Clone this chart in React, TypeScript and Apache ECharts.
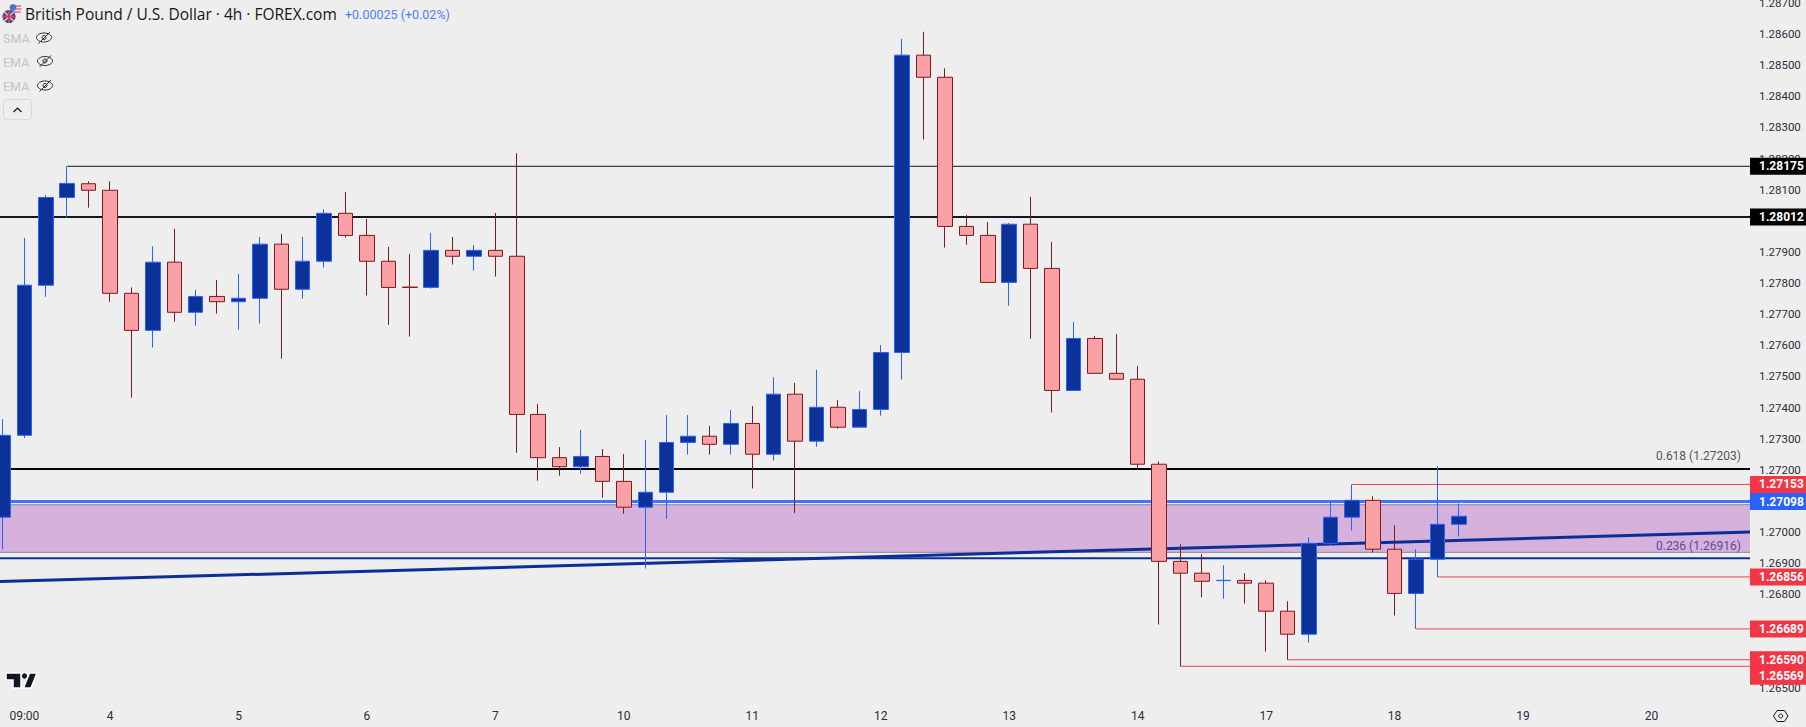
import React, { useEffect, useRef } from "react";
import * as echarts from "echarts";

const opens = [1.27048,1.27311,1.27793,1.28075,1.28119,1.28098,1.27767,1.27648,1.27867,1.27706,1.27757,1.27740,1.27751,1.27925,1.27780,1.27870,1.28024,1.27953,1.27870,1.27787,1.27786,1.27905,1.27886,1.27905,1.27886,1.27378,1.27239,1.27210,1.27243,1.27163,1.27080,1.27128,1.27288,1.27308,1.27282,1.27349,1.27250,1.27443,1.27292,1.27401,1.27337,1.27394,1.27577,1.28532,1.28461,1.27982,1.27953,1.27802,1.27989,1.27847,1.27455,1.27622,1.27510,1.27491,1.27218,1.26906,1.26868,1.26844,1.26845,1.26836,1.26746,1.26672,1.26964,1.27048,1.27102,1.26945,1.26803,1.26913,1.27025];
const closes = [1.27311,1.27793,1.28075,1.28120,1.28098,1.27767,1.27648,1.27867,1.27706,1.27757,1.27740,1.27751,1.27925,1.27780,1.27870,1.28024,1.27953,1.27870,1.27786,1.27786,1.27905,1.27886,1.27905,1.27886,1.27378,1.27239,1.27210,1.27243,1.27163,1.27080,1.27128,1.27288,1.27308,1.27282,1.27349,1.27250,1.27443,1.27292,1.27401,1.27337,1.27394,1.27577,1.28532,1.28461,1.27982,1.27953,1.27802,1.27989,1.27847,1.27455,1.27622,1.27510,1.27491,1.27218,1.26906,1.26868,1.26842,1.26845,1.26836,1.26746,1.26672,1.26964,1.27048,1.27102,1.26945,1.26803,1.26913,1.27025,1.27051];
const lows = [1.26944,1.27302,1.27756,1.28010,1.28042,1.27740,1.27432,1.27593,1.27676,1.27663,1.27702,1.27650,1.27670,1.27557,1.27750,1.27850,1.27946,1.27760,1.27666,1.27628,1.27782,1.27859,1.27840,1.27821,1.27255,1.27165,1.27181,1.27188,1.27111,1.27059,1.26883,1.27043,1.27249,1.27249,1.27249,1.27140,1.27230,1.27061,1.27274,1.27332,1.27337,1.27374,1.27490,1.28261,1.27914,1.27923,1.27802,1.27727,1.27621,1.27384,1.27455,1.27510,1.27491,1.27204,1.26703,1.26569,1.26790,1.26786,1.26770,1.26616,1.26590,1.26645,1.26958,1.27005,1.26934,1.26732,1.26689,1.26856,1.26986];
const highs = [1.27363,1.27945,1.28083,1.28175,1.28127,1.28127,1.27786,1.27918,1.27974,1.27778,1.27810,1.27829,1.27948,1.27958,1.27948,1.28037,1.28093,1.28006,1.27916,1.27893,1.27961,1.27948,1.27922,1.28025,1.28217,1.27412,1.27273,1.27328,1.27267,1.27251,1.27296,1.27376,1.27376,1.27341,1.27392,1.27405,1.27497,1.27479,1.27521,1.27424,1.27453,1.27601,1.28584,1.28607,1.28490,1.28019,1.27996,1.27993,1.28077,1.27932,1.27675,1.27630,1.27636,1.27534,1.27227,1.26961,1.26929,1.26894,1.26868,1.26845,1.26778,1.26983,1.27098,1.27153,1.27115,1.27022,1.26945,1.27211,1.27092];

const priceTicks = [1.265,1.266,1.267,1.268,1.269,1.27,1.271,1.272,1.273,1.274,1.275,1.276,1.277,1.278,1.279,1.28,1.281,1.282,1.283,1.284,1.285,1.286,1.287];
const dateTickBars = [1,5,11,17,23,29,35,41,47,53,59,65,71,77];
const dateTickLabels = ["09:00","4","5","6","7","10","11","12","13","14","17","18","19","20"];

const resistanceOuter = 1.28175;
const resistanceInner = 1.28012;
const fib618 = 1.27203;
const fib236 = 1.26916;
const zoneBlue = 1.27098;
const zoneTop = 1.27088;
const zoneBottom = 1.26935;
const trendFrom = 1.26841;
const trendTo = 1.27;
const pivots = [
  { value: 1.27153, fromBar: 63, shift: 0 },
  { value: 1.26856, fromBar: 67, shift: 0 },
  { value: 1.26689, fromBar: 66, shift: 0 },
  { value: 1.2659, fromBar: 60, shift: 0 },
  { value: 1.26569, fromBar: 55, shift: 10 },
];

const FONT = "Roboto, 'Liberation Sans', sans-serif";
const TITLE_FONT = "'Open Sans', Roboto, sans-serif";
const X_MIN = -0.14;
const X_MAX = 81.6;

function hLine(value: number, from: number, color: string, width: number, tag?: string, shift = 0, z = 2) {
  return {
    type: "line",
    silent: true,
    z,
    showSymbol: false,
    symbol: "none",
    data: [[from, value], [X_MAX, value]],
    lineStyle: { color, width },
    endLabel: tag
      ? {
          show: true,
          formatter: () => value.toFixed(5),
          distance: 0,
          offset: [0, shift],
          align: "left",
          verticalAlign: "middle",
          color: "#fff",
          fontFamily: FONT,
          fontSize: 12,
          fontWeight: "bold",
          backgroundColor: tag,
          width: 47,
          height: 17,
          lineHeight: 17,
          padding: [0, 0, 0, 9],
        }
      : { show: false },
  };
}

function eye(cx: number, cy: number) {
  const s = { stroke: "#2a2e39", lineWidth: 1, fill: "transparent" };
  return [
    { type: "ellipse", shape: { cx, cy, rx: 7.5, ry: 4.5 }, style: s, z: 20 },
    { type: "circle", shape: { cx, cy, r: 2 }, style: s, z: 20 },
    { type: "line", shape: { x1: cx - 5.5, y1: cy + 6, x2: cx + 6, y2: cy - 5.5 }, style: s, z: 20 },
  ];
}

function legendText(text: string, y: number) {
  return {
    type: "text", x: 3, y, z: 20,
    style: { text, fill: "#c1c4cd", font: `12.5px ${FONT}`, verticalAlign: "middle" },
  };
}

function buildGraphics() {
  const flagLine = (x1: number, y1: number, x2: number, y2: number, stroke: string, lineWidth = 1) => ({
    type: "line", shape: { x1, y1, x2, y2 }, style: { stroke, lineWidth }, z: 21,
  });
  return [
    { type: "circle", shape: { cx: 15.5, cy: 10, r: 6 }, style: { fill: "#f6e9e9" }, z: 20 },
    flagLine(11, 6, 21, 6, "#d8343f"), flagLine(10, 9, 21.5, 9, "#d8343f"), flagLine(11, 12, 21, 12, "#d8343f"),
    { type: "circle", shape: { cx: 13, cy: 7.5, r: 3.4 }, style: { fill: "#4a78c8" }, z: 21 },
    { type: "circle", shape: { cx: 9, cy: 16.5, r: 6.5 }, style: { fill: "#33508f" }, z: 22 },
    { type: "line", shape: { x1: 4.5, y1: 12, x2: 13.5, y2: 21 }, style: { stroke: "#e8c7cc", lineWidth: 1.5 }, z: 23 },
    { type: "line", shape: { x1: 13.5, y1: 12, x2: 4.5, y2: 21 }, style: { stroke: "#e8c7cc", lineWidth: 1.5 }, z: 23 },
    { type: "line", shape: { x1: 9, y1: 10, x2: 9, y2: 23 }, style: { stroke: "#d8404c", lineWidth: 2 }, z: 24 },
    { type: "line", shape: { x1: 2.5, y1: 16.5, x2: 15.5, y2: 16.5 }, style: { stroke: "#d8404c", lineWidth: 2 }, z: 24 },
    {
      type: "text", x: 25, y: 14, z: 20,
      style: { text: "British Pound / U.S. Dollar · 4h · FOREX.com", fill: "#131722", font: `15.5px ${TITLE_FONT}`, verticalAlign: "middle" },
    },
    {
      type: "text", x: 345, y: 14, z: 20,
      style: { text: "+0.00025 (+0.02%)", fill: "#4d7fff", font: `12.5px ${FONT}`, verticalAlign: "middle" },
    },
    legendText("SMA", 38), legendText("EMA", 62), legendText("EMA", 86),
    ...eye(44, 37.5), ...eye(45, 61), ...eye(45, 85.5),
    { type: "rect", shape: { x: 3.5, y: 99.5, width: 28, height: 20, r: 3 }, style: { fill: "transparent", stroke: "#d6d8de", lineWidth: 1 }, z: 20 },
    { type: "polyline", shape: { points: [[13.5, 112], [17.5, 108], [21.5, 112]] }, style: { fill: "none", stroke: "#131722", lineWidth: 1.2 }, z: 20 },
    { type: "polygon", shape: { points: [[6, 673], [21, 673], [21, 688], [13, 688], [13, 680], [6, 680]] }, style: { fill: "#131722", stroke: "#fff", lineWidth: 1.5 }, z: 20 },
    { type: "polygon", shape: { points: [[29.5, 673], [37, 673], [31, 688], [23.5, 688]] }, style: { fill: "#131722", stroke: "#fff", lineWidth: 1.5 }, z: 20 },
    { type: "circle", shape: { cx: 24.5, cy: 676, r: 2.6 }, style: { fill: "#131722" }, z: 21 },
    {
      type: "text", x: 1741, y: 456, z: 20,
      style: { text: "0.618 (1.27203)", fill: "#555", font: `12px ${FONT}`, align: "right", verticalAlign: "middle" },
    },
    {
      type: "text", x: 1741, y: 546, z: 20,
      style: { text: "0.236 (1.26916)", fill: "#5b4aa0", font: `12px ${FONT}`, align: "right", verticalAlign: "middle" },
    },
    {
      type: "polygon",
      shape: { points: [[1773.5, 716], [1777, 710.5], [1784.5, 710.5], [1788, 716], [1784.5, 721.5], [1777, 721.5]] },
      style: { fill: "transparent", stroke: "#131722", lineWidth: 1 }, z: 20,
    },
    { type: "circle", shape: { cx: 1780.7, cy: 716, r: 2 }, style: { fill: "transparent", stroke: "#131722", lineWidth: 1 }, z: 20 },
  ];
}

export default function App() {
  const ref = useRef<HTMLDivElement>(null);
  useEffect(() => {
    document.body.style.margin = "0";
    document.body.style.background = "#eeeeee";
    const chart = echarts.init(ref.current!, undefined, { renderer: "svg" });
    chart.setOption({
      animation: false,
      backgroundColor: "#eeeeee",
      grid: { left: 0, right: 56, top: 0, bottom: 27, containLabel: false, outerBoundsMode: "none" },
      xAxis: {
        type: "value",
        min: X_MIN,
        max: X_MAX,
        axisLine: { show: false },
        axisTick: { show: false },
        splitLine: { show: false },
        axisLabel: {
          customValues: dateTickBars,
          formatter: (v: number) => dateTickLabels[dateTickBars.indexOf(v)] ?? "",
          color: "#2a2e39",
          fontFamily: FONT,
          fontSize: 12,
          margin: 10,
          showMinLabel: true,
          showMaxLabel: true,
        },
      },
      yAxis: {
        type: "value",
        position: "right",
        min: 1.264607,
        max: 1.287092,
        scale: true,
        axisLine: { show: false },
        axisTick: { show: false },
        splitLine: { show: false },
        axisLabel: {
          customValues: priceTicks,
          formatter: (v: number) => v.toFixed(5),
          color: "#2a2e39",
          fontFamily: FONT,
          fontSize: 11.5,
          margin: 9,
          align: "left",
        },
      },
      series: [
        {
          type: "line",
          silent: true,
          z: 1,
          showSymbol: false,
          symbol: "none",
          data: [[X_MIN, zoneTop], [X_MAX, zoneTop]],
          lineStyle: { color: "#8a8a8e", width: 1 },
          markArea: {
            silent: true,
            itemStyle: { color: "#d5b1dc" },
            data: [[{ yAxis: zoneTop }, { yAxis: zoneBottom }]],
          },
        },
        hLine(zoneBottom, X_MIN, "#8a8a8e", 1),
        hLine(resistanceOuter, 3, "#131722", 1, "#000000"),
        hLine(resistanceInner, X_MIN, "#131722", 2, "#000000"),
        hLine(fib618, X_MIN, "#000000", 2),
        hLine(zoneBlue, X_MIN, "#3f74ff", 3, "#2962ff"),
        hLine(fib236, X_MIN, "#0b2f98", 2),
        ...pivots.map((p) => hLine(p.value, p.fromBar, "#ef4350", 1, "#f23645", p.shift, 3)),
        {
          type: "line",
          silent: true,
          z: 4,
          showSymbol: false,
          symbol: "none",
          data: [[X_MIN, trendFrom], [X_MAX, trendTo]],
          lineStyle: { color: "#0b2f98", width: 3 },
        },
        {
          type: "candlestick",
          silent: true,
          z: 6,
          barWidth: 15,
          data: opens.map((o, i) => [i, o, closes[i], lows[i], highs[i]]),
          itemStyle: {
            color: "#0c3299",
            color0: "#faa1a5",
            borderColor: "#2962ff",
            borderColor0: "#801922",
            borderWidth: 1,
          },
        },
      ],
      graphic: buildGraphics(),
    });
    return () => chart.dispose();
  }, []);
  return <div ref={ref} style={{ width: 1806, height: 727 }} />;
}
